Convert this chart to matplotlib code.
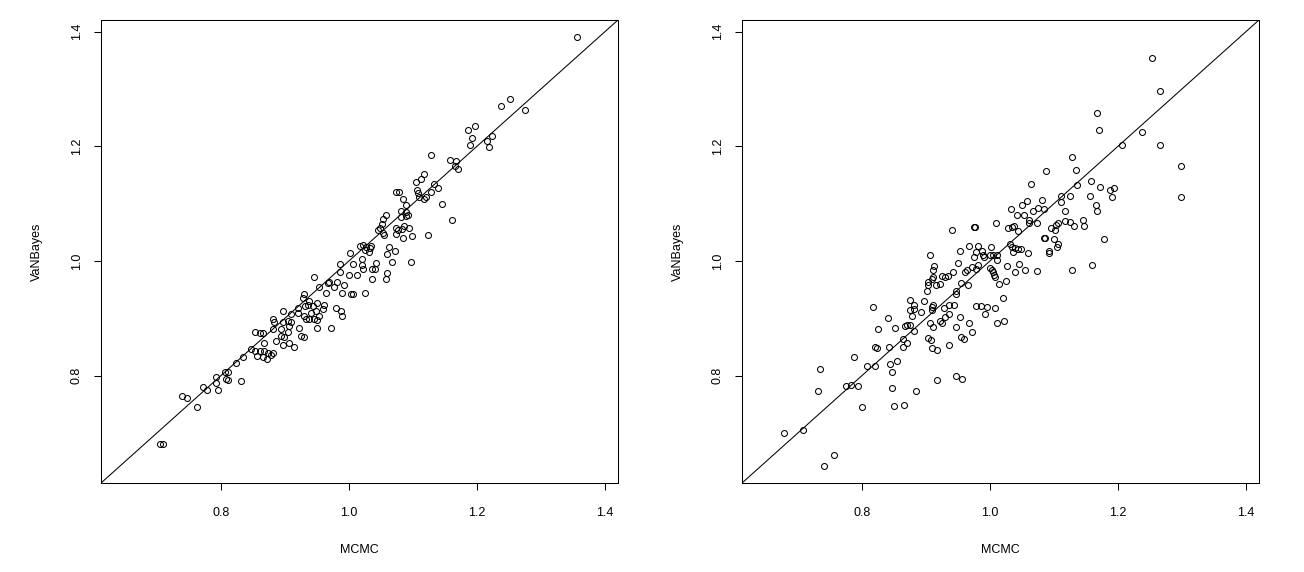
import matplotlib
matplotlib.use("Agg")
import matplotlib.pyplot as plt

plt.rcParams['font.family'] = ['Liberation Sans', 'DejaVu Sans']

# ---------------- data ----------------
left_mcmc = [
    1.357, 1.237, 1.252, 1.276, 1.187, 1.197, 1.192, 1.189, 1.216, 1.223, 1.219,
    1.128, 1.158, 1.168, 1.166, 1.170, 1.117, 1.113, 1.105, 1.133, 1.140,
    1.107, 1.108, 1.128, 1.121, 1.118, 1.110, 1.073, 1.078, 1.085, 1.145,
    1.089, 1.082, 1.089, 1.092, 1.089, 1.081, 1.162, 1.058, 1.053, 1.052,
    1.049, 1.053, 1.055, 1.046, 1.074, 1.077, 1.087, 1.094, 1.083, 1.085,
    1.098, 1.123, 1.074, 1.017, 1.022, 1.027, 1.033, 1.025, 1.035, 1.031,
    1.002, 1.063, 1.072, 1.059, 1.068, 1.097, 0.986, 1.007, 1.020, 1.020,
    1.022, 1.043, 1.041,
    1.025, 1.037, 1.037, 1.058, 1.059,
    0.987, 1.000, 1.013, 0.946, 0.982, 0.969, 0.967, 0.977, 0.954, 0.964,
    0.993, 0.990, 1.003, 1.006, 0.930, 0.928, 0.938, 0.936, 0.951, 0.962,
    0.944, 0.931, 0.920, 0.959, 0.949, 0.941, 0.954, 0.946, 0.938, 0.951,
    0.980, 0.988, 0.990, 0.951, 0.973, 0.897, 0.910, 0.920, 0.930, 0.933,
    0.881, 0.883, 0.897, 0.905, 0.910, 0.907, 0.923, 0.881, 0.894, 0.905,
    0.853, 0.861, 0.866, 0.887, 0.894, 0.899, 0.925, 0.930, 0.897, 0.907,
    0.915, 0.868, 0.847, 0.853, 0.861, 0.868, 0.874, 0.879, 0.881, 0.857,
    0.866, 0.873, 0.835,
    0.8245, 0.806, 0.812, 0.793, 0.808, 0.811, 0.832, 0.792, 0.773, 0.779,
    0.796, 0.740, 0.747, 0.7625, 0.705, 0.710,
]
left_vanbayes = [
    1.390, 1.271, 1.282, 1.264, 1.228, 1.235, 1.215, 1.203, 1.210, 1.218, 1.199,
    1.185, 1.177, 1.175, 1.165, 1.161, 1.152, 1.144, 1.138, 1.134, 1.128,
    1.124, 1.118, 1.121, 1.112, 1.109, 1.112, 1.120, 1.120, 1.109, 1.099,
    1.098, 1.087, 1.085, 1.081, 1.078, 1.077, 1.072, 1.081, 1.074, 1.065,
    1.058, 1.049, 1.046, 1.055, 1.057, 1.054, 1.061, 1.058, 1.056, 1.040,
    1.043, 1.045, 1.048, 1.027, 1.028, 1.025, 1.022, 1.020, 1.027, 1.016,
    1.014, 1.025, 1.017, 1.013, 0.999, 0.999, 0.995, 0.995, 1.004, 0.993,
    0.987, 0.997, 0.987,
    0.944, 0.969, 0.986, 0.968, 0.979,
    0.981, 0.975, 0.975, 0.972, 0.964, 0.964, 0.961, 0.955, 0.955, 0.945,
    0.958, 0.945, 0.942, 0.942, 0.942, 0.936, 0.930, 0.924, 0.927, 0.924,
    0.922, 0.922, 0.919, 0.916, 0.913, 0.910, 0.904, 0.899, 0.899, 0.897,
    0.919, 0.913, 0.904, 0.884, 0.883, 0.913, 0.907, 0.910, 0.904, 0.899,
    0.899, 0.893, 0.893, 0.896, 0.893, 0.887, 0.884, 0.881, 0.881, 0.876,
    0.877, 0.875, 0.874, 0.861, 0.870, 0.867, 0.870, 0.867, 0.853, 0.858,
    0.850, 0.858, 0.846, 0.843, 0.843, 0.843, 0.840, 0.837, 0.840, 0.834,
    0.832, 0.829, 0.832,
    0.823, 0.806, 0.806, 0.798, 0.795, 0.792, 0.791, 0.788, 0.781, 0.775,
    0.776, 0.765, 0.762, 0.746, 0.681, 0.681,
]

right_mcmc = [
    1.254, 1.266, 1.168, 1.170, 1.238, 1.207, 1.266, 1.128, 1.299, 1.135,
    1.088,
    0.941, 0.975, 0.977, 0.953, 0.967, 0.981, 0.906, 0.951, 0.975, 0.979,
    0.913, 0.912, 0.911, 0.909, 0.925, 0.930, 0.935, 0.942, 0.961, 0.964,
    0.972, 0.979, 0.981, 0.903, 0.904, 0.902, 0.916, 0.923, 0.955, 0.966,
    0.947, 0.948, 0.876, 0.898, 0.881, 0.912, 0.909, 0.936, 0.944, 0.817,
    0.928, 0.979,
    1.064, 1.136, 1.158, 1.172, 1.188, 1.194, 1.191, 1.299, 1.156, 1.126,
    1.112, 1.111, 1.082, 1.058, 1.050, 1.033, 1.042, 1.053, 1.067, 1.076,
    1.084, 1.062, 1.061, 1.073, 1.118, 1.166, 1.167, 1.010, 1.028, 1.035,
    1.038, 1.044, 1.106, 1.104, 1.117, 1.125, 1.132, 1.146, 1.147, 1.096,
    1.102, 1.086, 1.085, 1.100, 1.179, 1.106, 1.105, 1.093, 1.092, 1.002,
    1.032, 1.035, 1.039, 1.044, 1.049, 1.060, 1.036, 0.988, 0.990, 0.991,
    1.000, 1.005, 1.012, 1.012, 1.027, 1.046, 1.055, 1.040, 1.074, 1.128,
    1.160, 1.000, 1.003, 1.005, 1.007, 1.008, 1.025, 1.014, 1.021,
    0.678, 0.709, 0.741, 0.756, 0.735, 0.731, 0.788, 0.776, 0.784, 0.794,
    0.800, 0.808, 0.821, 0.841, 0.825, 0.852, 0.868, 0.821, 0.824, 0.843,
    0.865, 0.865, 0.844, 0.855, 0.848, 0.847, 0.850, 0.866,
    0.882, 0.876, 0.910, 0.986, 0.996, 1.008, 0.878, 0.893, 0.992, 0.871,
    0.875, 0.881, 0.870, 0.907, 0.912, 0.922, 0.925, 0.930, 0.937, 0.953,
    0.947, 0.968, 0.972, 0.955, 0.960, 0.903, 0.908, 0.909, 0.918, 0.937,
    1.011, 1.022, 0.917, 0.947, 0.956, 0.885,
]
right_vanbayes = [
    1.355, 1.296, 1.258, 1.229, 1.225, 1.202, 1.202, 1.181, 1.166, 1.159,
    1.158,
    1.055, 1.060, 1.060, 1.017, 1.026, 1.027, 1.010, 0.997, 1.008, 1.016,
    0.991, 0.984, 0.972, 0.969, 0.974, 0.972, 0.974, 0.981, 0.981, 0.985,
    0.990, 0.987, 0.993, 0.958, 0.964, 0.947, 0.958, 0.960, 0.961, 0.958,
    0.947, 0.943, 0.933, 0.930, 0.923, 0.924, 0.920, 0.924, 0.923, 0.920,
    0.918, 0.922,
    1.134, 1.133, 1.139, 1.130, 1.124, 1.128, 1.111, 1.112, 1.113, 1.113,
    1.113, 1.103, 1.107, 1.105, 1.097, 1.091, 1.081, 1.080, 1.087, 1.093,
    1.091, 1.071, 1.066, 1.066, 1.088, 1.098, 1.087, 1.067, 1.058, 1.059,
    1.062, 1.052, 1.067, 1.063, 1.070, 1.068, 1.061, 1.071, 1.062, 1.057,
    1.054, 1.041, 1.040, 1.038, 1.038, 1.030, 1.025, 1.018, 1.014, 1.024,
    1.029, 1.024, 1.023, 1.021, 1.021, 1.015, 1.016, 1.018, 1.010, 1.007,
    1.010, 1.011, 1.011, 1.002, 0.991, 0.995, 0.985, 0.981, 0.982, 0.985,
    0.993, 0.988, 0.984, 0.981, 0.975, 0.972, 0.965, 0.960, 0.935,
    0.701, 0.705, 0.642, 0.661, 0.812, 0.774, 0.832, 0.782, 0.784, 0.782,
    0.745, 0.817, 0.817, 0.900, 0.882, 0.884, 0.887, 0.850, 0.848, 0.851,
    0.864, 0.850, 0.820, 0.826, 0.806, 0.779, 0.748, 0.749,
    0.917, 0.915, 0.915, 0.921, 0.920, 0.918, 0.905, 0.911, 0.908, 0.889,
    0.889, 0.878, 0.858, 0.892, 0.885, 0.896, 0.892, 0.902, 0.908, 0.902,
    0.885, 0.892, 0.876, 0.868, 0.864, 0.866, 0.863, 0.849, 0.845, 0.854,
    0.892, 0.896, 0.793, 0.800, 0.795, 0.774,
]

axis_limits = (0.6125, 1.421)
tick_values = [0.8, 1.0, 1.2, 1.4]
tick_labels = ["0.8", "1.0", "1.2", "1.4"]
x_title = "MCMC"
y_title = "VaNBayes"

# ---------------- figure ----------------
W, H = 1304, 572
fig = plt.figure(figsize=(W / 100, H / 100), dpi=100)
fig.patch.set_facecolor("white")

box_w, box_h = 517.6, 463.6
box_bottom = 483.3
panels = [
    (100.7, left_mcmc, left_vanbayes),
    (741.7, right_mcmc, right_vanbayes),
]

for left_px, xs, ys in panels:
    ax = fig.add_axes([left_px / W, (H - box_bottom) / H, box_w / W, box_h / H])
    ax.plot(xs, ys, linestyle="none", marker="o", markerfacecolor="none",
            markeredgecolor="black", markersize=4.3, markeredgewidth=0.75)
    ax.axline((0, 0), (1, 1), color="black", linewidth=0.75)
    ax.set_xlim(*axis_limits)
    ax.set_ylim(*axis_limits)
    ax.set_xticks(tick_values, tick_labels)
    ax.set_yticks(tick_values, tick_labels)
    for sp in ax.spines.values():
        sp.set_linewidth(0.75)
        sp.set_color("black")
    ax.tick_params(axis="both", direction="out", length=5, width=0.75,
                   labelsize=9, colors="black")
    ax.tick_params(axis="x", pad=12.0)
    ax.tick_params(axis="y", pad=8.0)
    for lab in ax.get_yticklabels():
        lab.set_rotation(90)
        lab.set_va("center")
    ax.set_xlabel(x_title, fontsize=9)
    ax.set_ylabel(y_title, fontsize=9)
    ax.xaxis.set_label_coords(0.5, -66.4 / box_h)
    ax.xaxis.label.set_va("center")
    ax.yaxis.set_label_coords(-64.0 / box_w, 0.5)
    ax.yaxis.label.set_va("center")

fig.savefig("out.png", dpi=100, facecolor="white")
